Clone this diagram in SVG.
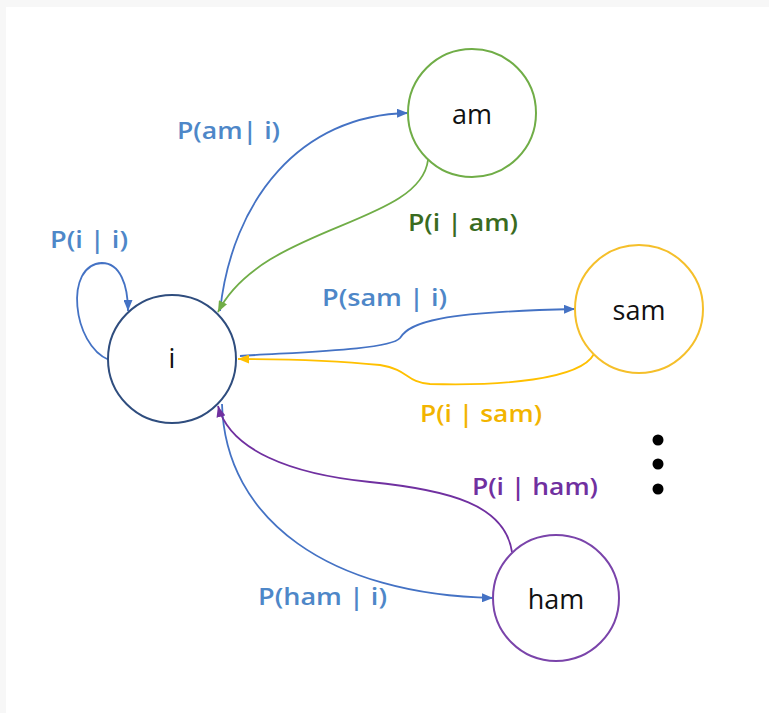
<svg xmlns="http://www.w3.org/2000/svg" width="769" height="713" viewBox="0 0 769 713">
  <style>
    .node { fill: #ffffff; stroke-width: 2; }
    .node-label { font-family: "Open Sans", "Liberation Sans", sans-serif; font-size: 27px; fill: #111111; text-anchor: middle; }
    .edge { fill: none; stroke-width: 1.8; }
    .edge-label { font-family: "Open Sans", "Liberation Sans", sans-serif; font-size: 23px; font-weight: 600; }
    .blue { stroke: #4472c4; }
    .green { stroke: #70ad47; }
    .orange { stroke: #ffc000; }
    .purple { stroke: #7030a0; }
  </style>
  <defs>
    <marker id="arrow-blue" markerUnits="userSpaceOnUse" markerWidth="11" markerHeight="9" refX="11" refY="4.5" orient="auto">
      <path d="M0,0 L11,4.5 L0,9 z" fill="#4472c4"/>
    </marker>
    <marker id="arrow-green" markerUnits="userSpaceOnUse" markerWidth="11" markerHeight="9" refX="11" refY="4.5" orient="auto">
      <path d="M0,0 L11,4.5 L0,9 z" fill="#70ad47"/>
    </marker>
    <marker id="arrow-orange" markerUnits="userSpaceOnUse" markerWidth="11" markerHeight="9" refX="11" refY="4.5" orient="auto">
      <path d="M0,0 L11,4.5 L0,9 z" fill="#ffc000"/>
    </marker>
    <marker id="arrow-purple" markerUnits="userSpaceOnUse" markerWidth="11" markerHeight="9" refX="11" refY="4.5" orient="auto">
      <path d="M0,0 L11,4.5 L0,9 z" fill="#7030a0"/>
    </marker>
  </defs>

  <!-- page -->
  <rect x="0" y="0" width="769" height="713" fill="#f7f7f7"/>
  <rect x="6" y="7" width="763" height="706" fill="#ffffff"/>

  <!-- transitions -->
  <g id="connectors">
    <path class="edge blue" d="M109,360 C72,345 64,264 102,263 C120,263 128,285 128,311" marker-end="url(#arrow-blue)"/>
    <path class="edge blue" d="M220,311 C232,200 300,115 408,113" marker-end="url(#arrow-blue)"/>
    <path class="edge green" d="M428,160 C420,225 262,225 218,312" marker-end="url(#arrow-green)"/>
    <path class="edge blue" d="M240,356 C300,352 390,350 400,338 C410,322 440,312 575,309" marker-end="url(#arrow-blue)"/>
    <path class="edge orange" d="M594,354 C580,380 500,386 430,384 C405,382 410,370 380,365 C330,360 280,359 238,359" marker-end="url(#arrow-orange)"/>
    <path class="edge blue" d="M222,404 C225,520 330,595 493,598" marker-end="url(#arrow-blue)"/>
    <path class="edge purple" d="M512,552 C505,505 450,490 370,482 C290,474 230,450 218,406" marker-end="url(#arrow-purple)"/>
  </g>

  <!-- transition probabilities -->
  <g id="edge-labels" class="edge-label">
    <text x="50" y="248" fill="#4e87c8" textLength="78" lengthAdjust="spacingAndGlyphs">P(i | i)</text>
    <text x="177" y="139" fill="#4e87c8" textLength="103" lengthAdjust="spacingAndGlyphs">P(am| i)</text>
    <text x="408" y="231" fill="#3a6b1f" textLength="110" lengthAdjust="spacingAndGlyphs">P(i | am)</text>
    <text x="322" y="306" fill="#4e87c8" textLength="125" lengthAdjust="spacingAndGlyphs">P(sam | i)</text>
    <text x="420" y="422" fill="#f2b400" textLength="122" lengthAdjust="spacingAndGlyphs">P(i | sam)</text>
    <text x="472" y="495" fill="#7030a0" textLength="126" lengthAdjust="spacingAndGlyphs">P(i | ham)</text>
    <text x="258" y="605" fill="#4e87c8" textLength="129" lengthAdjust="spacingAndGlyphs">P(ham | i)</text>
  </g>

  <!-- states -->
  <g id="node-i">
    <circle class="node" cx="172" cy="359" r="64" stroke="#2f4d7e"/>
    <text class="node-label" x="172" y="368">i</text>
  </g>
  <g id="node-am">
    <circle class="node" cx="472" cy="113" r="64" stroke="#70ad47"/>
    <text class="node-label" x="472" y="124">am</text>
  </g>
  <g id="node-sam">
    <circle class="node" cx="639" cy="309" r="64" stroke="#f5bf2a"/>
    <text class="node-label" x="639" y="320">sam</text>
  </g>
  <g id="node-ham">
    <circle class="node" cx="556" cy="598" r="63" stroke="#7a44aa"/>
    <text class="node-label" x="556" y="609">ham</text>
  </g>

  <!-- ellipsis -->
  <g id="more-states" fill="#000000">
    <circle cx="658" cy="440" r="5.5"/>
    <circle cx="658" cy="464" r="5.5"/>
    <circle cx="658" cy="489" r="5.5"/>
  </g>
</svg>
